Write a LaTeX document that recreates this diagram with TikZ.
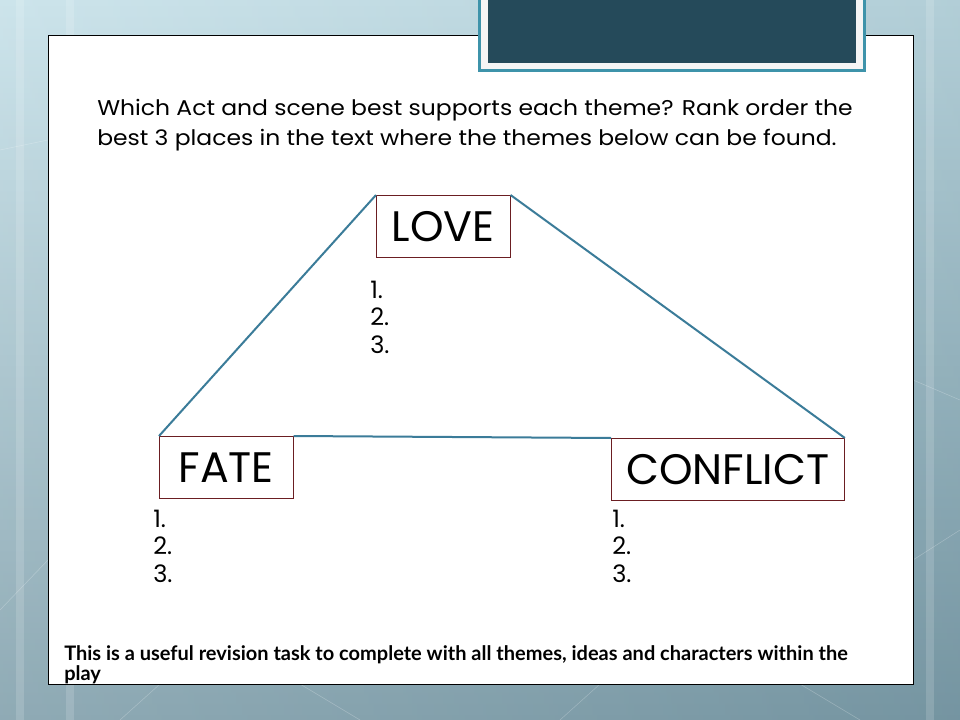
\documentclass[tikz,border=0pt]{standalone}
\usepackage{fontspec}
\setmainfont{Poppins}
\newfontfamily\questionfont[FakeStretch=1.1]{Poppins}
\newfontfamily\notefont{Lato}
\usetikzlibrary{positioning}
\definecolor{slidedark}{HTML}{254A5A}
\definecolor{slideedge}{HTML}{3E93AA}
\definecolor{slidelink}{HTML}{3B7C99}
\definecolor{boxred}{HTML}{6B1E22}
\definecolor{bgtop}{HTML}{C6E1E9}
\definecolor{bgbottom}{HTML}{809FAB}
\tikzset{
x=0.75pt, y=-0.75pt, % one unit is one pixel of the slide
theme/.style={draw=boxred, fill=white, thin, anchor=north west, minimum height=46.5pt, font=\fontsize{32}{38}\selectfont}, % the three theme boxes
link/.style={draw=slidelink, line width=1.5pt}, % lines of the triangle
ranks/.style={align=left, anchor=base west, inner sep=0pt, font=\fontsize{18}{20.5}\selectfont}, % the 1. 2. 3. lists, placed at the last line
}

\begin{document}
\begin{tikzpicture}
    \useasboundingbox (0,0) rectangle (960,720);
    % background and slide panel
    \shade[top color=bgtop, bottom color=bgbottom] (0,0) rectangle (960,720);
    \shade[left color=white, right color=slidedark, opacity=0.12] (0,0) rectangle (960,720);
    \foreach \sx in {20,70,930} \draw[white, opacity=0.15, line width=6pt] (\sx,0) -- (\sx,720);
    \draw[white, opacity=0.25] (0,150) -- (48,140) (0,610) -- (48,560) (913,380) -- (960,400) (913,560) -- (960,530)
        (120,720) -- (160,684) (300,684) -- (360,720) (560,720) -- (600,684) (800,684) -- (860,720);
    \draw[black, fill=white] (48,35) rectangle (913,684);
    \fill[slideedge] (478,0) rectangle (866,72);
    \fill[gray!8] (481,0) rectangle (863,69);
    \fill[slidedark] (488,0) rectangle (856,63);

    \node[anchor=base west, align=left, inner sep=0pt, font=\questionfont\fontsize{16}{23}\selectfont] (question) at (97,146)
        {Which Act and scene best supports each theme? Rank order the\\best 3 places in the text where the themes below can be found.};

    \node[theme, minimum width=100.5pt] (love) at (376,195) {LOVE};
    \node[theme, minimum width=100.5pt] (fate) at (159,436) {FATE};
    \node[theme, minimum width=175pt] (conflict) at (611,438) {CONFLICT};

    \draw[link] (love.north west) -- (fate.north west)
                (love.north east) -- (conflict.north east)
                (fate.north east) -- (conflict.north west);

    \node[ranks] (love-ranks) at (370,353) {1.\\2.\\3.};
    \node[ranks] (fate-ranks) at (153,582) {1.\\2.\\3.};
    \node[ranks] (conflict-ranks) at (612,582) {1.\\2.\\3.};

    \node[anchor=base west, align=left, inner sep=0pt, font=\notefont\bfseries\fontsize{15}{12.75}\selectfont] (note) at (64,680)
        {This is a useful revision task to complete with all themes, ideas and characters within the\\play};
\end{tikzpicture}
\end{document}
